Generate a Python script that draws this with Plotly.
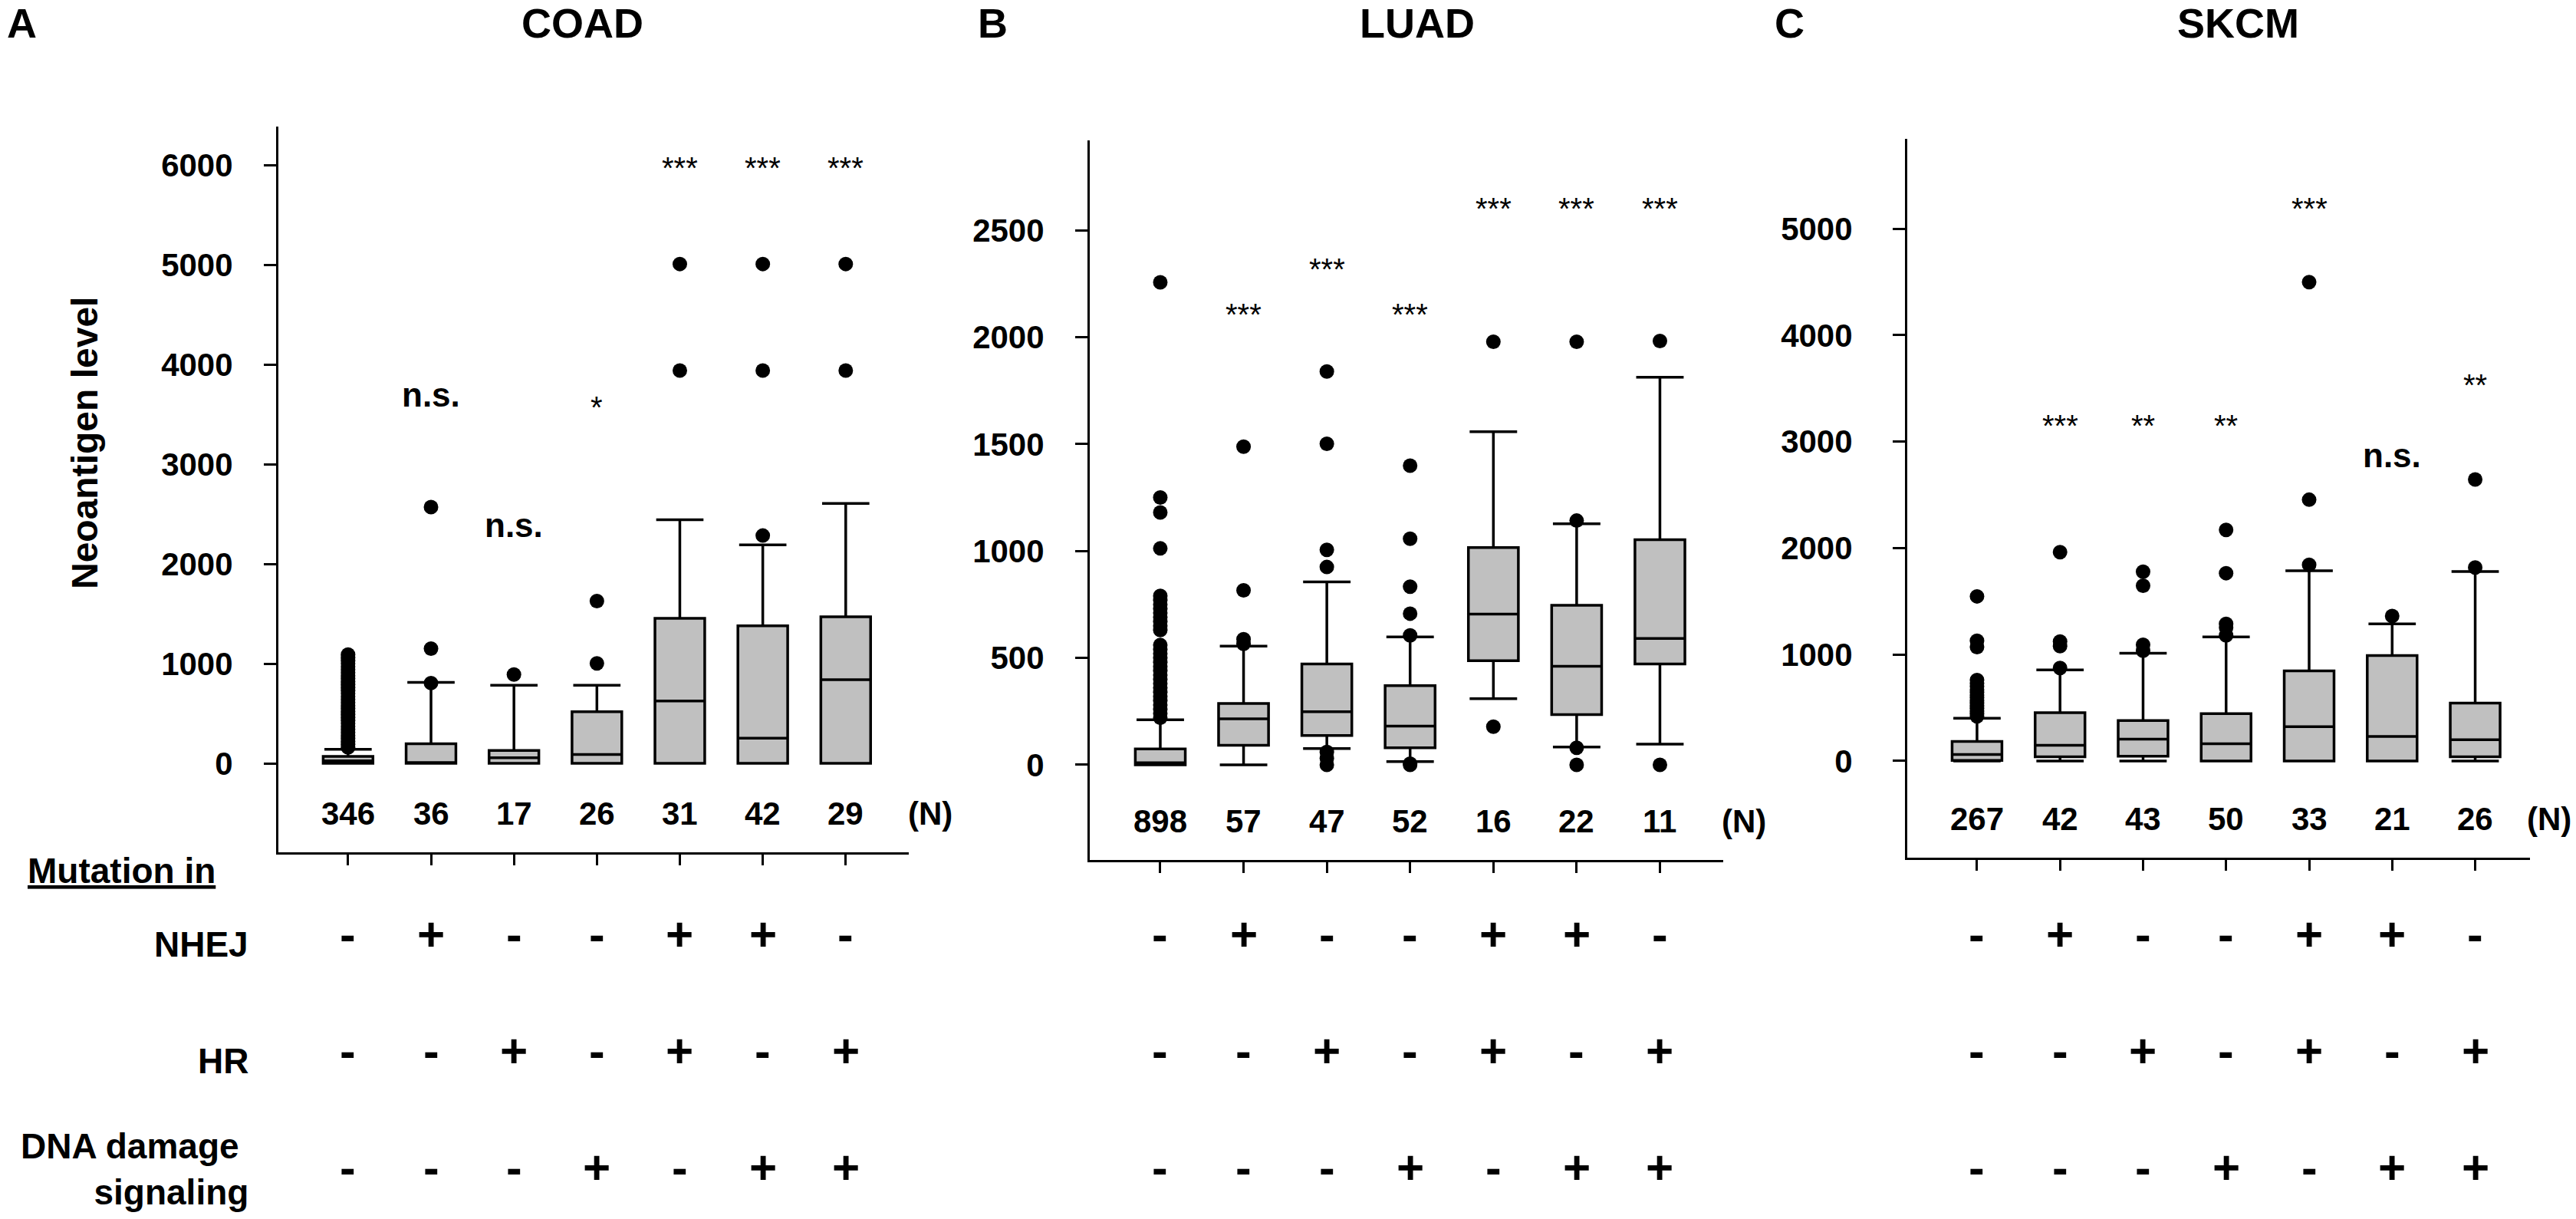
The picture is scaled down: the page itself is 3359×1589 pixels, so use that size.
import plotly.graph_objects as go

W, H = 3359, 1589
FONT = "Liberation Sans"

# ---------------- data ----------------
positions = [0, 1, 2, 3, 4, 5, 6]
nhej = ["-", "+", "-", "-", "+", "+", "-"]
hr = ["-", "-", "+", "-", "+", "-", "+"]
dds = ["-", "-", "-", "+", "-", "+", "+"]

# COAD
coad_n = [346, 36, 17, 26, 31, 42, 29]
coad_q1 = [0, 0, 0, 0, 0, 0, 0]
coad_median = [25, 0, 56, 89, 625, 252, 839]
coad_q3 = [70, 196, 130, 517, 1455, 1380, 1469]
coad_lower = [0, 0, 0, 0, 0, 0, 0]
coad_upper = [140, 812, 783, 783, 2443, 2191, 2606]
coad_outliers = [
    [160, 190, 220, 250, 280, 310, 340, 370, 400, 430, 460, 490, 520, 550, 580, 610,
     640, 670, 700, 730, 760, 790, 820, 850, 880, 910, 940, 970, 1000, 1030, 1060, 1090],
    [805, 1151, 2569],
    [890],
    [1002, 1627],
    [3939, 5007],
    [2284, 3939, 5007],
    [3939, 5007],
]
coad_sig = ["", "n.s.", "n.s.", "*", "***", "***", "***"]
coad_sig_y = [None, 3700, 2392, 3646, 6046, 6046, 6046]

# LUAD
luad_n = [898, 57, 47, 52, 16, 22, 11]
luad_q1 = [0, 91, 137, 80, 487, 235, 472]
luad_median = [10, 215, 248, 181, 705, 461, 591]
luad_q3 = [74, 287, 472, 370, 1016, 746, 1053]
luad_lower = [0, 0, 76, 15, 309, 83, 97]
luad_upper = [211, 555, 855, 598, 1558, 1127, 1812]
luad_outliers = [
    [220, 240, 260, 280, 300, 320, 340, 360, 380, 400, 420, 440, 460, 480, 500, 520,
     540, 560, 630, 650, 670, 690, 710, 730, 750, 770, 790, 1012, 1180, 1250, 2256],
    [566, 587, 816, 1488],
    [60, 30, 0, 925, 1005, 1501, 1839],
    [0, 5, 605, 707, 833, 1057, 1399],
    [178, 1978],
    [80, 0, 1142, 1978],
    [0, 1982],
]
luad_sig = ["", "***", "***", "***", "***", "***", "***"]
luad_sig_y = [None, 2142, 2353, 2142, 2636, 2636, 2636]

# SKCM
skcm_n = [267, 42, 43, 50, 33, 21, 26]
skcm_q1 = [5, 39, 44, 0, 0, 0, 40]
skcm_median = [61, 148, 205, 162, 323, 231, 200]
skcm_q3 = [183, 454, 380, 445, 847, 991, 544]
skcm_lower = [0, 0, 0, 0, 0, 0, 0]
skcm_upper = [402, 856, 1013, 1166, 1786, 1288, 1780]
skcm_outliers = [
    [420, 445, 470, 495, 520, 545, 570, 595, 620, 645, 670, 700, 730, 760, 1070, 1130, 1546],
    [873, 1079, 1122, 1961],
    [1035, 1092, 1646, 1777],
    [1179, 1253, 1288, 1764, 2170],
    [1843, 2454, 4498],
    [1362],
    [1817, 2644],
]
skcm_sig = ["", "***", "**", "**", "***", "n.s.", "**"]
skcm_sig_y = [None, 3220, 3220, 3220, 5259, 2870, 3600]

panel_titles = ["COAD", "LUAD", "SKCM"]
panel_letters = ["A", "B", "C"]
y_ticks = [[0, 1000, 2000, 3000, 4000, 5000, 6000],
           [0, 500, 1000, 1500, 2000, 2500],
           [0, 1000, 2000, 3000, 4000, 5000]]
row_labels = ["NHEJ", "HR", "DNA damage <br>signaling"]

# ---------------- layout constants (pixels) ----------------
panels = [
    dict(n=coad_n, q1=coad_q1, med=coad_median, q3=coad_q3, lo=coad_lower, hi=coad_upper,
         out=coad_outliers, sig=coad_sig, sig_y=coad_sig_y,
         xpx=(363, 1185), ypx=(165, 1111), xr=[-0.84, 6.76], yr=[-892, 6385], standoff=32,
         title_x=759, letter_x=29, n_shift=110),
    dict(n=luad_n, q1=luad_q1, med=luad_median, q3=luad_q3, lo=luad_lower, hi=luad_upper,
         out=luad_outliers, sig=luad_sig, sig_y=luad_sig_y,
         xpx=(1421, 2247), ypx=(183, 1121), xr=[-0.847, 6.76], yr=[-445, 2920], standoff=32,
         title_x=1848, letter_x=1294, n_shift=110),
    dict(n=skcm_n, q1=skcm_q1, med=skcm_median, q3=skcm_q3, lo=skcm_lower, hi=skcm_upper,
         out=skcm_outliers, sig=skcm_sig, sig_y=skcm_sig_y,
         xpx=(2487, 3299), ypx=(181, 1118), xr=[-0.84, 6.66], yr=[-908, 5843], standoff=44,
         title_x=2918, letter_x=2333, n_shift=96),
]

fig = go.Figure()
annotations = []
layout_axes = {}

def px_x(px):
    return px / W

def px_y(py):
    return 1 - py / H

sign_rows_y = [1217, 1369, 1521]
label_rows_y = [1231, 1383, 1524]

for i, p in enumerate(panels):
    suf = "" if i == 0 else str(i + 1)
    xa, ya = "x" + suf, "y" + suf
    fig.add_trace(go.Box(
        x=positions, q1=p["q1"], median=p["med"], q3=p["q3"],
        lowerfence=p["lo"], upperfence=p["hi"],
        boxpoints=False, width=0.6, whiskerwidth=0.95,
        fillcolor="#c0c0c0", line=dict(color="black", width=3.5),
        xaxis=xa, yaxis=ya, showlegend=False, hoverinfo="skip"))
    ox, oy = [], []
    for pos, vals in zip(positions, p["out"]):
        for v in vals:
            ox.append(pos)
            oy.append(v)
    fig.add_trace(go.Scatter(
        x=ox, y=oy, mode="markers", marker=dict(color="black", size=19),
        xaxis=xa, yaxis=ya, showlegend=False, hoverinfo="skip", cliponaxis=False))

    layout_axes["xaxis" + suf] = dict(
        domain=[px_x(p["xpx"][0]), px_x(p["xpx"][1])], range=p["xr"], anchor=ya,
        showline=True, linecolor="black", linewidth=3, ticks="outside", ticklen=14,
        tickwidth=3, tickcolor="black", tickvals=positions, showticklabels=False,
        showgrid=False, zeroline=False, fixedrange=True)
    layout_axes["yaxis" + suf] = dict(
        domain=[px_y(p["ypx"][1]), px_y(p["ypx"][0])], range=p["yr"], anchor=xa,
        showline=True, linecolor="black", linewidth=3, ticks="outside", ticklen=16,
        tickwidth=3, tickcolor="black", tickvals=y_ticks[i],
        tickfont=dict(family=FONT, size=42, color="black", weight="bold"),
        ticklabelstandoff=p["standoff"], showgrid=False, zeroline=False, fixedrange=True)

    # N counts
    for pos, n in zip(positions, p["n"]):
        annotations.append(dict(
            x=pos, y=0, xref=xa, yref=ya + " domain", yshift=51, text=str(n),
            showarrow=False, yanchor="middle",
            font=dict(family=FONT, size=42, color="black", weight="bold")))
    annotations.append(dict(
        x=positions[-1], y=0, xref=xa, yref=ya + " domain", yshift=51,
        xshift=p["n_shift"], text="(N)",
        showarrow=False, yanchor="middle",
        font=dict(family=FONT, size=42, color="black", weight="bold")))

    # significance
    for pos, s, sy in zip(positions, p["sig"], p["sig_y"]):
        if not s:
            continue
        star = s.startswith("*")
        annotations.append(dict(
            x=pos, y=sy, xref=xa, yref=ya, text=s, showarrow=False, yanchor="middle",
            yshift=-10 if star else 0,
            font=dict(family=FONT, size=40 if star else 44, color="black",
                      weight="normal" if star else "bold")))

    # +/- rows
    for row, ry in zip([nhej, hr, dds], sign_rows_y):
        for pos, s in zip(positions, row):
            annotations.append(dict(
                x=pos, y=px_y(ry), xref=xa, yref="paper", text=s, showarrow=False,
                yanchor="middle",
                font=dict(family=FONT, size=62, color="black", weight="bold")))

    # titles and letters
    annotations.append(dict(
        x=px_x(p["title_x"]), y=px_y(30), xref="paper", yref="paper", text=panel_titles[i],
        showarrow=False, xanchor="center", yanchor="middle",
        font=dict(family=FONT, size=54, color="black", weight="bold")))
    annotations.append(dict(
        x=px_x(p["letter_x"]), y=px_y(30), xref="paper", yref="paper", text=panel_letters[i],
        showarrow=False, xanchor="center", yanchor="middle",
        font=dict(family=FONT, size=54, color="black", weight="bold")))

# row labels
for lab, ry in zip(row_labels, label_rows_y):
    annotations.append(dict(
        x=px_x(326), y=px_y(ry), xref="paper", yref="paper", text=lab, showarrow=False,
        xanchor="right", yanchor="middle", align="right",
        font=dict(family=FONT, size=46, color="black", weight="bold")))

annotations.append(dict(
    x=px_x(34), y=px_y(1135), xref="paper", yref="paper", text="<u>Mutation in</u>",
    showarrow=False, xanchor="left", yanchor="middle",
    font=dict(family=FONT, size=46, color="black", weight="bold")))

annotations.append(dict(
    x=px_x(110), y=px_y(578), xref="paper", yref="paper", text="Neoantigen level",
    showarrow=False, textangle=-90, xanchor="center", yanchor="middle",
    font=dict(family=FONT, size=48, color="black", weight="bold")))

fig.update_layout(
    width=W, height=H, margin=dict(l=0, r=0, t=0, b=0, pad=0),
    paper_bgcolor="white", plot_bgcolor="white",
    annotations=annotations, showlegend=False, **layout_axes)

fig.write_html("out.html", config={"displayModeBar": False},
               post_script="document.body.style.margin='0px';")
